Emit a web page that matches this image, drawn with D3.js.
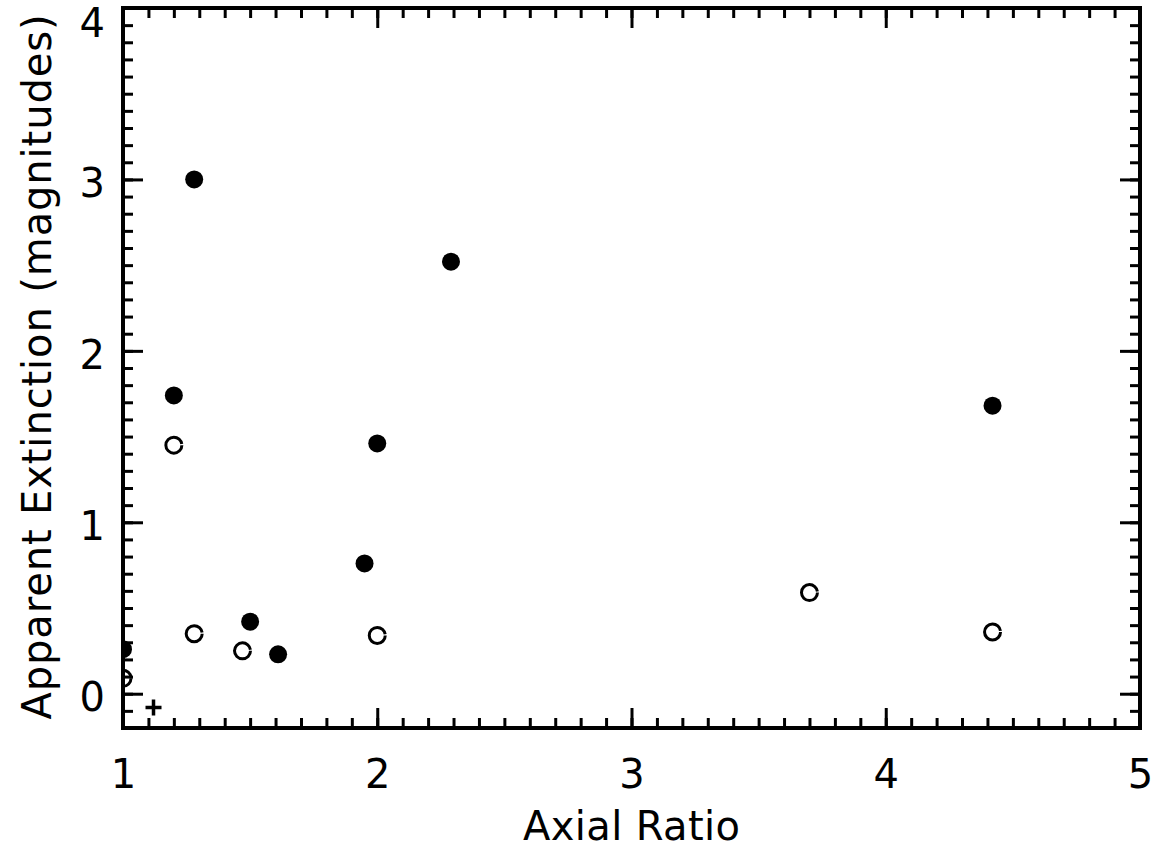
<!DOCTYPE html>
<html>
<head>
<meta charset="utf-8">
<script src="https://cdn.jsdelivr.net/npm/d3@7"></script>
<style>
  body { margin: 0; background: #fff; }
  text { font-family: "DejaVu Sans", sans-serif; font-weight: normal; fill: #000; }
  .axis path { display: none; }
  .axis line { stroke: #000; stroke-width: 3; }
</style>
</head>
<body>
<div id="chart"></div>
<script>
// filled circles
var filledX = [1.00, 1.20, 1.28, 1.50, 1.61, 1.95, 2.00, 2.29, 4.42];
var filledY = [0.26, 1.74, 3.00, 0.42, 0.23, 0.76, 1.46, 2.52, 1.68];
// open circles
var openX = [1.00, 1.20, 1.28, 1.47, 2.00, 3.70, 4.42];
var openY = [0.09, 1.45, 0.35, 0.25, 0.34, 0.59, 0.36];
// plus marker
var plusX = [1.12];
var plusY = [-0.08];

var xTicks = [1, 2, 3, 4, 5];
var yTicks = [0, 1, 2, 3, 4];

var w = 1165, h = 857;
var p = {"top": 8, "right": 25, "left": 123, "bot": 129};

var svg = d3.select("#chart").append("svg")
  .attr("width", w)
  .attr("height", h)

var x = d3.scaleLinear().domain([1, 5]).range([p.left, w - p.right]);
var y = d3.scaleLinear().domain([-0.2, 4]).range([h - p.bot, p.top]);

var xMinor = d3.range(1, 5.001, 0.1).map(function(d){ return +d.toFixed(1) });
var yMinor = d3.range(-0.2, 4.001, 0.1).map(function(d){ return +d.toFixed(1) });

// minor ticks, all four sides, pointing inward
svg.append("g").attr("class", "axis")
  .attr("transform", "translate(0," + y.range()[0] + ")")
  .call(d3.axisBottom(x).tickValues(xMinor).tickSize(-10).tickFormat(""))
svg.append("g").attr("class", "axis")
  .attr("transform", "translate(0," + y.range()[1] + ")")
  .call(d3.axisTop(x).tickValues(xMinor).tickSize(-10).tickFormat(""))
svg.append("g").attr("class", "axis")
  .attr("transform", "translate(" + x.range()[0] + ",0)")
  .call(d3.axisLeft(y).tickValues(yMinor).tickSize(-10).tickFormat(""))
svg.append("g").attr("class", "axis")
  .attr("transform", "translate(" + x.range()[1] + ",0)")
  .call(d3.axisRight(y).tickValues(yMinor).tickSize(-10).tickFormat(""))

// major ticks
var xAxis = svg.append("g").attr("class", "axis")
  .attr("transform", "translate(0," + y.range()[0] + ")")
  .call(d3.axisBottom(x).tickValues(xTicks).tickSize(-20).tickPadding(32).tickFormat(d3.format("d")))
xAxis.selectAll("text").style("font-size", "40px").attr("dy", "0.71em")

svg.append("g").attr("class", "axis")
  .attr("transform", "translate(0," + y.range()[1] + ")")
  .call(d3.axisTop(x).tickValues(xTicks).tickSize(-20).tickFormat(""))

var yAxis = svg.append("g").attr("class", "axis")
  .attr("transform", "translate(" + x.range()[0] + ",0)")
  .call(d3.axisLeft(y).tickValues(yTicks).tickSize(-20).tickPadding(18).tickFormat(d3.format("d")))
yAxis.selectAll("text").style("font-size", "40px").attr("dy", "0.43em")
// top label sits lower so it stays inside the picture
yAxis.selectAll("text").filter(function(d){ return d == 4 }).attr("dy", "0.7em")

svg.append("g").attr("class", "axis")
  .attr("transform", "translate(" + x.range()[1] + ",0)")
  .call(d3.axisRight(y).tickValues(yTicks).tickSize(-20).tickFormat(""))

// frame
svg.append("rect")
  .attr("x", x.range()[0])
  .attr("y", y.range()[1])
  .attr("width", x.range()[1] - x.range()[0])
  .attr("height", y.range()[0] - y.range()[1])
  .style("fill", "none")
  .style("stroke", "#000")
  .style("stroke-width", 4)

svg.append("clipPath").attr("id", "clip")
  .append("rect")
    .attr("x", x.range()[0])
    .attr("y", y.range()[1])
    .attr("width", x.range()[1] - x.range()[0])
    .attr("height", y.range()[0] - y.range()[1])

var pts = svg.append("g").attr("clip-path", "url(#clip)");

pts.selectAll(".filled")
  .data(d3.range(filledX.length))
  .enter()
    .append("circle")
      .attr("class", "filled")
      .attr("cx", function(i){ return x(filledX[i]) })
      .attr("cy", function(i){ return y(filledY[i]) })
      .attr("r", 9)
      .style("fill", "#000")

var rOpen = 8, circ = 2 * Math.PI * rOpen;
pts.selectAll(".open")
  .data(d3.range(openX.length))
  .enter()
    .append("circle")
      .attr("class", "open")
      .attr("cx", function(i){ return x(openX[i]) })
      .attr("cy", function(i){ return y(openY[i]) })
      .attr("r", rOpen)
      .style("fill", "none")
      .style("stroke", "#000")
      .style("stroke-width", 3)
      .style("stroke-dasharray", (circ - 1.5) + " 1.5")

pts.selectAll(".plus")
  .data(d3.range(plusX.length))
  .enter()
    .append("path")
      .attr("class", "plus")
      .attr("d", function(i){
        var cx = x(plusX[i]), cy = y(plusY[i]);
        return "M" + (cx - 8) + "," + cy + "H" + (cx + 8) + "M" + cx + "," + (cy - 8) + "V" + (cy + 8);
      })
      .style("stroke", "#000")
      .style("stroke-width", 3.5)

// titles
svg.append("text")
  .attr("x", (x.range()[0] + x.range()[1]) / 2)
  .attr("y", 840)
  .style("text-anchor", "middle")
  .style("font-size", "40px")
  .attr("textLength", 217)
  .attr("lengthAdjust", "spacing")
  .text("Axial Ratio")

svg.append("text")
  .attr("transform", "translate(51," + 367 + ") rotate(-90)")
  .style("text-anchor", "middle")
  .style("font-size", "40px")
  .attr("textLength", 705)
  .attr("lengthAdjust", "spacing")
  .text("Apparent Extinction (magnitudes)")
</script>
</body>
</html>
